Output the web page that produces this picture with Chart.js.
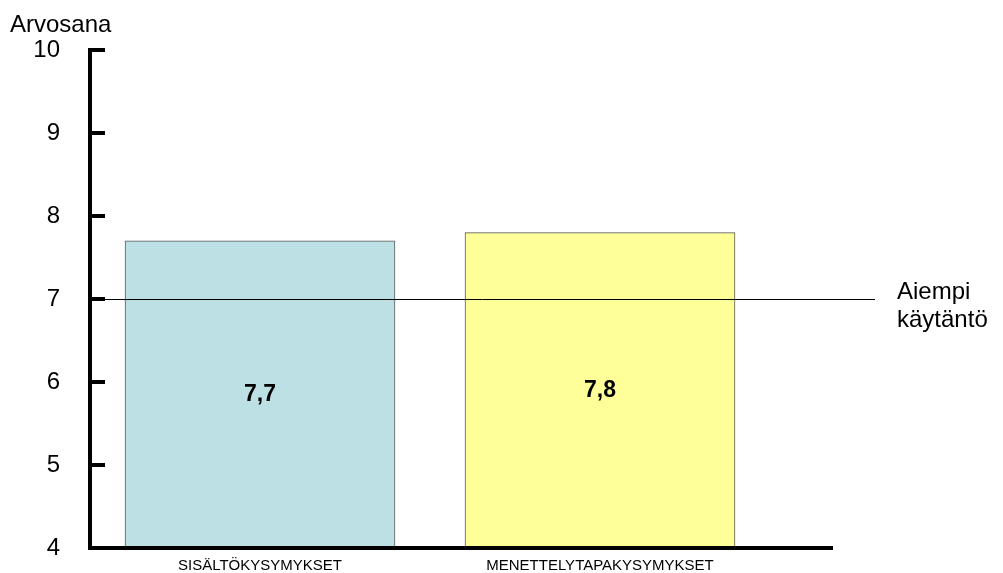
<!DOCTYPE html>
<html>
<head>
<meta charset="utf-8">
<script src="https://cdn.jsdelivr.net/npm/chart.js@4"></script>
<style>
  html, body { margin: 0; padding: 0; background: #fff; overflow: hidden; }
  #wrap { position: relative; width: 1003px; height: 573px; }
</style>
</head>
<body>
<div id="wrap"><canvas id="gradeChart"></canvas></div>
<script>
var categories = ['SISÄLTÖKYSYMYKSET', 'MENETTELYTAPAKYSYMYKSET'];
var grades = [7.7, 7.8];
var barColors = ['#bce0e3', '#ffff99'];
var previousPractice = 7;
var previousLabel = ['Aiempi', 'käytäntö'];
var axisTitle = 'Arvosana';
var yMin = 4, yMax = 10;

var font = '"Liberation Sans", Arial, sans-serif';

// axes with inner ticks, the reference line and the value labels
var extras = {
    id: 'extras',
    afterDatasetsDraw: function (chart) {
        var ctx = chart.ctx, x = chart.scales.x, y = chart.scales.y;
        var base = y.getPixelForValue(yMin);
        ctx.save();
        ctx.strokeStyle = '#000';
        ctx.lineWidth = 4;
        ctx.beginPath();
        ctx.moveTo(x.left, y.top - 2);
        ctx.lineTo(x.left, base);
        ctx.lineTo(x.right + 63, base);
        ctx.stroke();
        y.ticks.forEach(function (t) {
            var py = y.getPixelForValue(t.value);
            ctx.beginPath();
            ctx.moveTo(x.left, py);
            ctx.lineTo(x.left + 15, py);
            ctx.stroke();
        });

        var ly = Math.round(y.getPixelForValue(previousPractice)) + 0.5;
        ctx.lineWidth = 1;
        ctx.beginPath();
        ctx.moveTo(x.left, ly);
        ctx.lineTo(x.right + 105, ly);
        ctx.stroke();

        ctx.fillStyle = '#000';
        ctx.textBaseline = 'middle';
        ctx.font = '24px ' + font;
        ctx.fillText(previousLabel[0], x.right + 127, ly - 7);
        ctx.fillText(previousLabel[1], x.right + 127, ly + 21);

        ctx.font = 'bold 23px ' + font;
        ctx.textAlign = 'center';
        grades.forEach(function (g, i) {
            var top = y.getPixelForValue(g);
            ctx.fillText(g.toFixed(1).replace('.', ','), x.getPixelForValue(i), (top + base) / 2);
        });

        ctx.textAlign = 'left';
        ctx.font = '24px ' + font;
        ctx.fillText(axisTitle, 10, 25);
        ctx.restore();
    }
};

new Chart(document.getElementById('gradeChart'), {
    type: 'bar',
    data: {
        labels: categories,
        datasets: [{
            data: grades,
            backgroundColor: barColors,
            borderColor: '#555',
            borderWidth: 1,
            borderSkipped: false,
            barThickness: 270
        }]
    },
    options: {
        responsive: true,
        maintainAspectRatio: false,
        animation: false,
        layout: { padding: { top: 50, right: 233, left: 0, bottom: 0 } },
        plugins: {
            legend: { display: false },
            tooltip: { enabled: false }
        },
        scales: {
            x: {
                grid: { display: false, drawTicks: false },
                border: { display: false },
                ticks: {
                    color: '#000',
                    font: { family: font, size: 15 },
                    padding: 9,
                    maxRotation: 0,
                    autoSkip: false
                },
                afterFit: function (scale) { scale.height = 25; }
            },
            y: {
                min: yMin,
                max: yMax,
                grid: { display: false, drawTicks: false },
                border: { display: false },
                ticks: {
                    stepSize: 1,
                    color: '#000',
                    font: { family: font, size: 24 },
                    padding: 30
                },
                afterFit: function (scale) {
                    scale.width = 90;
                    scale.paddingTop = 0;
                    scale.paddingBottom = 0;
                }
            }
        }
    },
    plugins: [extras]
});
</script>
</body>
</html>
